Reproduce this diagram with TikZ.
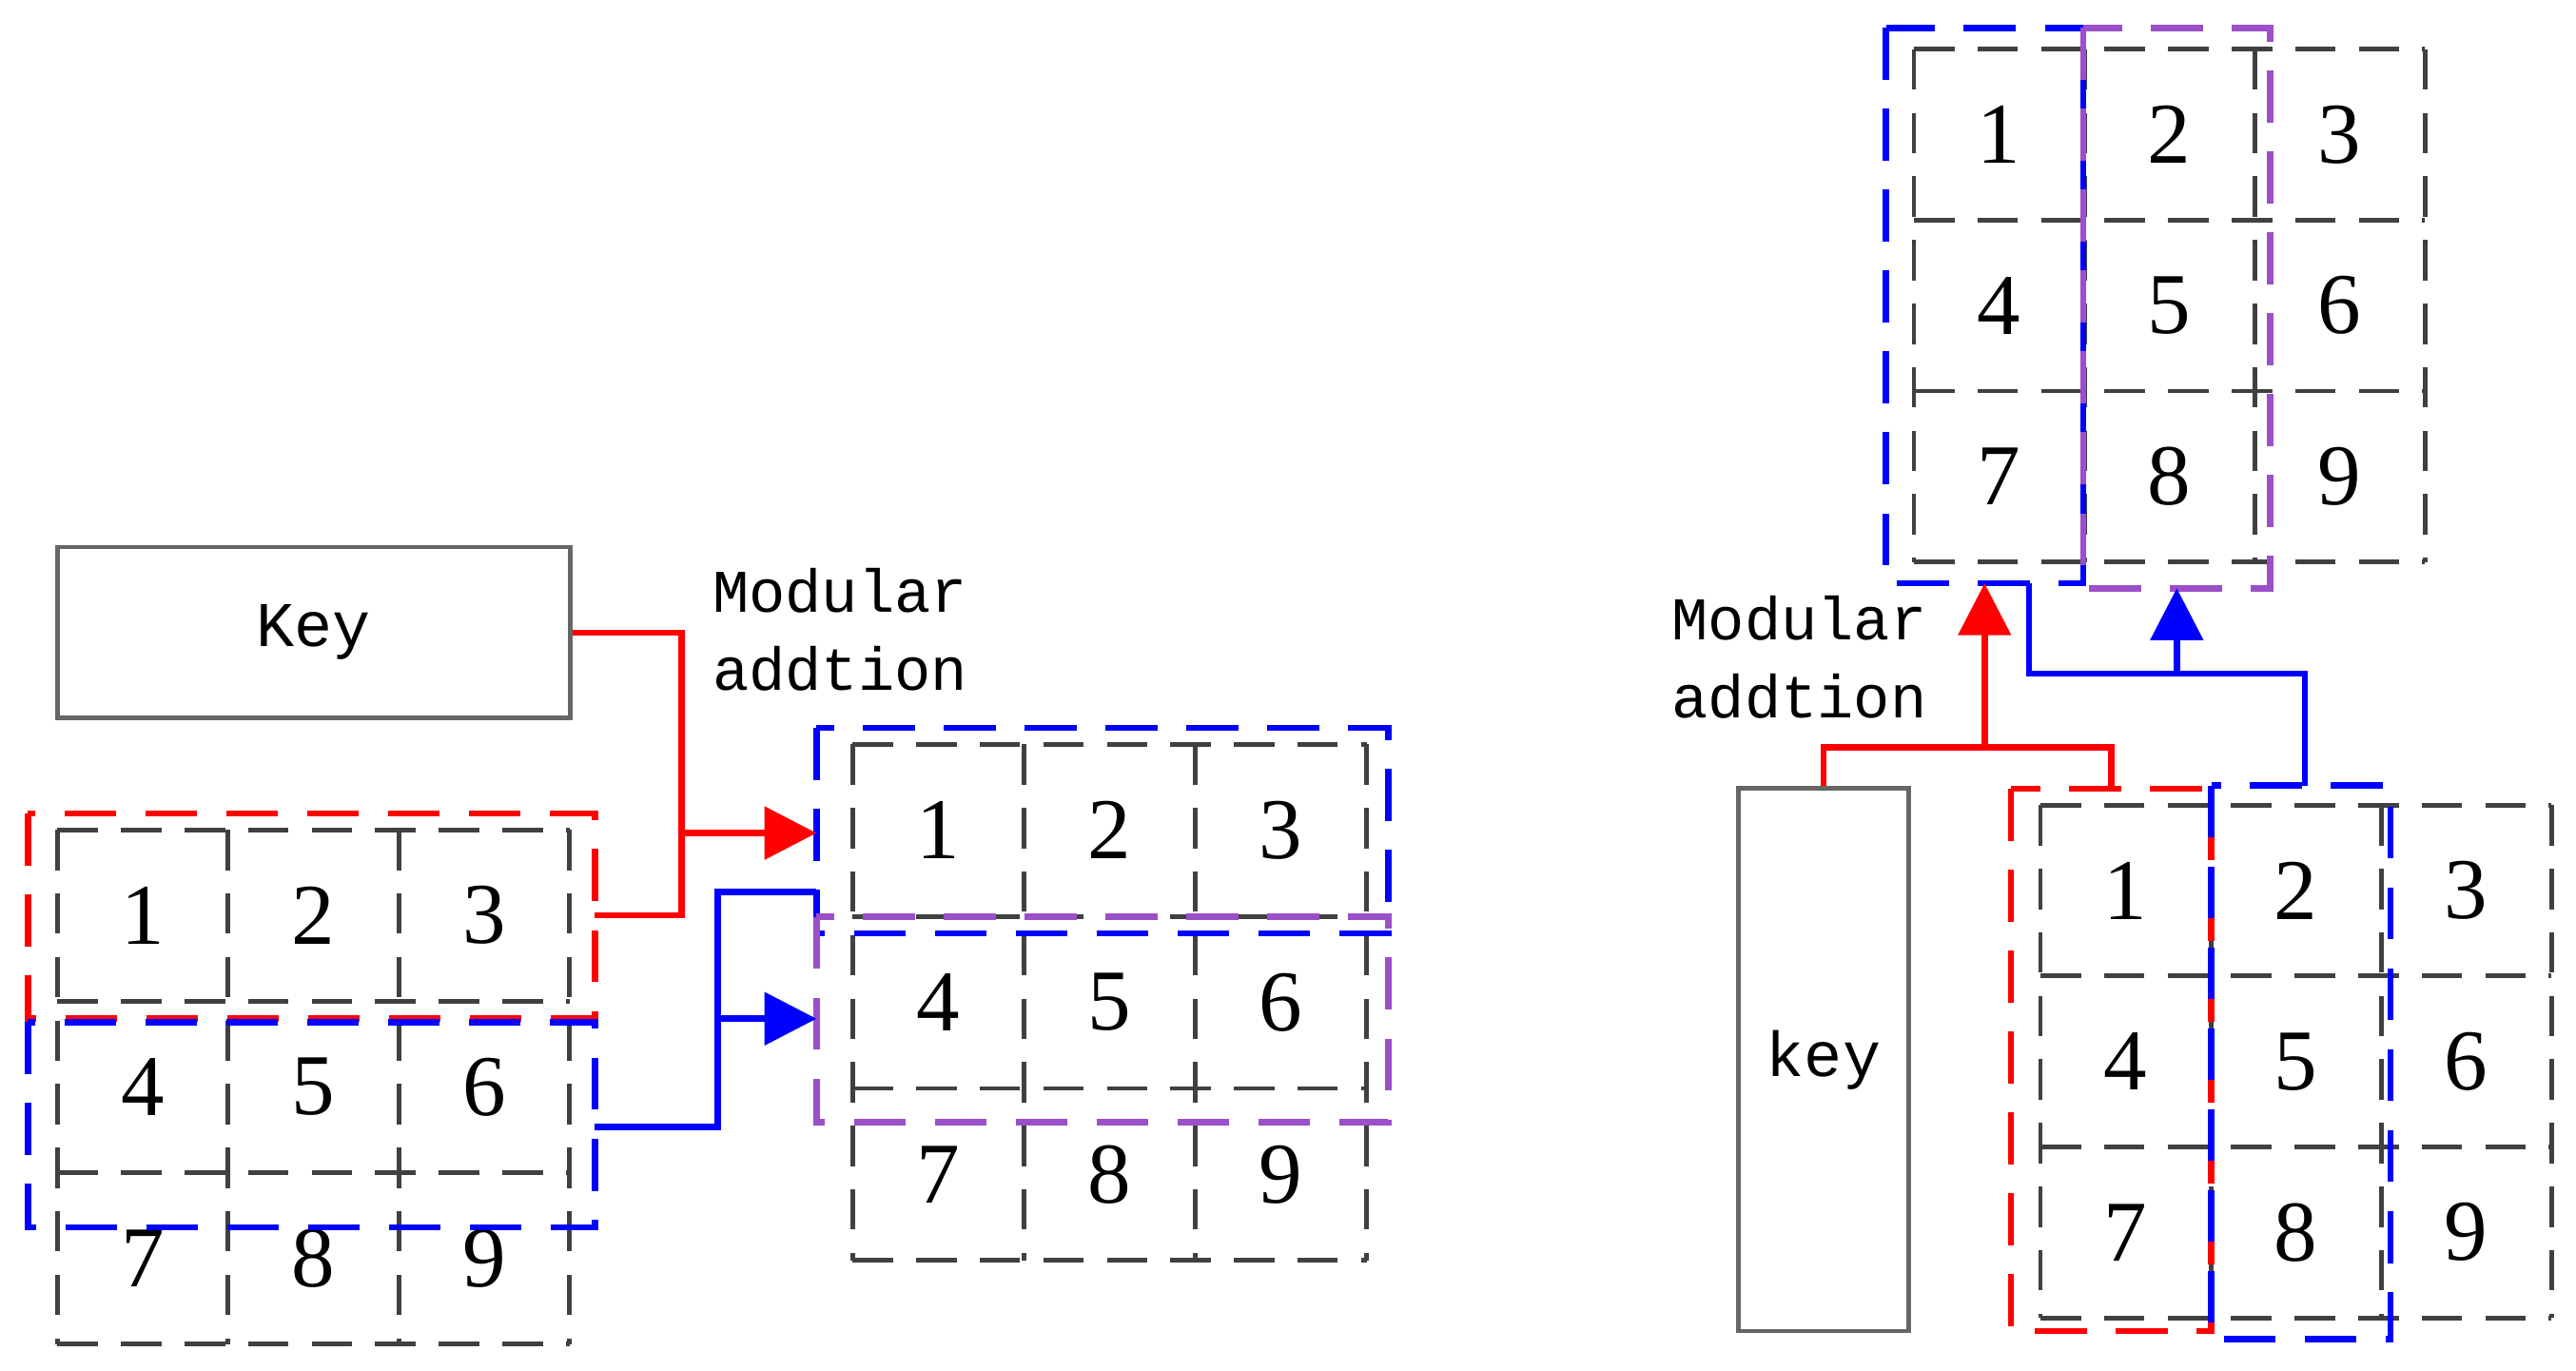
\documentclass[tikz,border=0pt]{standalone}
\usepackage{fontspec}
\setmainfont{Liberation Serif}
\newfontfamily\monofont{Liberation Mono}
\usetikzlibrary{arrows.meta}
\begin{document}
\begin{tikzpicture}[x=0.01cm,y=-0.01cm,
  cell/.style={font=\fontsize{15}{15}\selectfont,inner sep=0pt},
  gridline/.style={draw=black!75,dash pattern=on 7pt off 4pt,thick},
  grp/.style={dash pattern=on 9pt off 5pt,line width=1.1pt},
  keybox/.style={draw=black!60,thick,font=\monofont\fontsize{11}{11}\selectfont},
  lbl/.style={font=\monofont\fontsize{10.5}{13.5}\selectfont,align=left,anchor=north west,inner sep=0pt},
  red line/.style={red,line width=1.1pt},
  blue line/.style={blue,line width=1.1pt},
  tip/.style={-{Triangle[length=9pt,width=9pt]}}]
\definecolor{myPurple}{HTML}{9B4FC8}
\useasboundingbox (0,0) rectangle (1568,834);

% Grids of cells
\foreach \g/\x/\y/\w/\h in {L/35/505/103.9/104.3,M/519/453/104.3/104.7,T/1165/30/103.7/104,B/1242/490/103.7/104}{
  \foreach \k in {0,...,3}{
    \draw[gridline] (\x+\k*\w,\y) -- (\x+\k*\w,\y+3*\h);
    \draw[gridline] (\x,\y+\k*\h) -- (\x+3*\w,\y+\k*\h);
  }
  \foreach \n [evaluate=\n as \c using {int(mod(\n-1,3))}, evaluate=\n as \r using {int((\n-1)/3)}] in {1,...,9}
    \node[cell] (\g\n) at (\x+\w/2+\c*\w,\y+\h/2+\r*\h) {\n};
}

% Key boxes
\node[keybox,minimum width=3.12cm,minimum height=1.04cm] (key1) at (191,385) {Key};
\node[keybox,minimum width=1.04cm,minimum height=3.30cm] (key2) at (1110,645) {key};
\node[lbl] (mod1) at (433,345) {Modular\\addtion};
\node[lbl] (mod2) at (1017,362) {Modular\\addtion};

% Group frames
\draw[grp,red] (17,495) rectangle (362,620);
\draw[grp,blue] (17,622) rectangle (362,747);
\draw[grp,blue] (497,443) rectangle (845,568);
\draw[grp,myPurple] (497,558) rectangle (845,683);
\draw[grp,blue] (1148,17) rectangle (1268,355);
\draw[grp,myPurple] (1268,17) rectangle (1382,358);
\draw[grp,red] (1224,480) rectangle (1346,810);
\draw[grp,blue] (1346,478) rectangle (1455,815);

% Left connectors
\coordinate (r1) at (415,507);
\coordinate (b1) at (437,620);
\draw[red line] (key1.east) -| (415,557) -- (362,557);
\draw[red line,tip] (r1) -- (497,507);
\draw[blue line] (362,686) -- (437,686) |- (497,543);
\draw[blue line,tip] (b1) -- (497,620);

% Right connectors
\coordinate (r2) at (1208,455);
\coordinate (b2) at (1325,410);
\draw[red line] (key2.north) |- (1285,455) -- (1285,480);
\draw[red line,tip] (r2) -- (1208,355);
\draw[blue line] (1235,355) |- (1403,410) -- (1403,478);
\draw[blue line,tip] (b2) -- (1325,358);
\end{tikzpicture}
\end{document}
